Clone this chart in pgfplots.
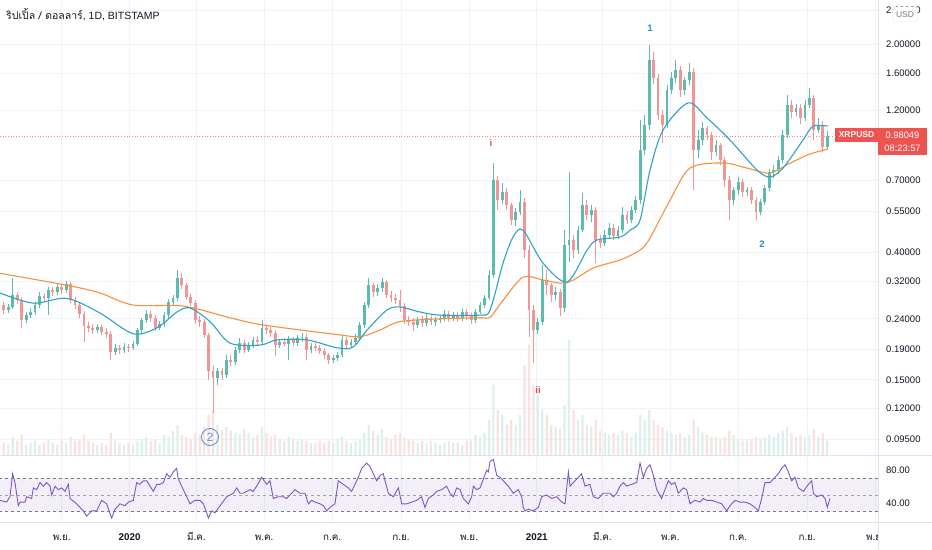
\documentclass[border=0pt]{standalone}
\usepackage{fontspec}
\setmainfont{Liberation Sans}
\newfontfamily\thaifont[Script=Thai]{Loma}
\usepackage{pgfplots}
\usepackage{pgfplotstable}
\pgfplotsset{compat=1.18}
\definecolor{upc}{HTML}{5DBAAF}
\definecolor{dnc}{HTML}{F29694}
\definecolor{vup}{HTML}{DCF1ED}
\definecolor{vdn}{HTML}{FCE1E1}
\definecolor{tealma}{HTML}{2EA3C9}
\definecolor{orma}{HTML}{F7913D}
\definecolor{rsic}{HTML}{7E57C2}
\definecolor{gridc}{HTML}{F0F3FA}
\definecolor{sepc}{HTML}{E0E3EB}
\definecolor{txtc}{HTML}{131722}
\definecolor{redc}{HTML}{EF5350}
\definecolor{lvl}{HTML}{787B86}
\definecolor{wave}{HTML}{2A93BA}
\definecolor{wred}{HTML}{E04848}
\definecolor{circ}{HTML}{5A9BD5}

\pgfplotstableread{
d o h l c v
-52 0.267 0.273 0.249 0.257 12
-48 0.257 0.269 0.251 0.263 10
-44 0.263 0.329 0.259 0.288 18
-40 0.288 0.295 0.269 0.277 14
-36 0.277 0.284 0.224 0.238 20
-32 0.238 0.253 0.233 0.247 10
-28 0.247 0.261 0.241 0.253 12
-24 0.253 0.273 0.247 0.267 14
-20 0.267 0.295 0.261 0.286 10
-16 0.286 0.293 0.273 0.281 12
-12 0.281 0.306 0.247 0.300 16
-8 0.300 0.308 0.286 0.295 12
-4 0.295 0.314 0.288 0.306 10
0 0.306 0.314 0.290 0.300 14
4 0.300 0.321 0.293 0.314 12
8 0.314 0.319 0.271 0.277 18
12 0.277 0.284 0.259 0.267 14
16 0.267 0.273 0.241 0.249 16
20 0.249 0.255 0.201 0.227 20
24 0.227 0.235 0.217 0.224 14
28 0.224 0.231 0.214 0.220 12
32 0.220 0.231 0.215 0.225 10
36 0.225 0.229 0.212 0.217 12
40 0.217 0.224 0.207 0.214 10
44 0.214 0.219 0.175 0.186 22
48 0.186 0.198 0.182 0.192 14
52 0.192 0.196 0.183 0.189 12
56 0.189 0.199 0.185 0.193 10
60 0.193 0.198 0.186 0.192 12
64 0.192 0.202 0.189 0.198 10
68 0.198 0.224 0.195 0.220 14
72 0.220 0.242 0.215 0.238 16
76 0.238 0.257 0.233 0.249 18
80 0.249 0.255 0.235 0.242 14
84 0.242 0.247 0.218 0.224 16
88 0.224 0.236 0.220 0.231 12
92 0.231 0.253 0.225 0.247 20
96 0.247 0.279 0.241 0.273 18
100 0.273 0.288 0.265 0.281 24
104 0.281 0.350 0.275 0.329 30
108 0.329 0.341 0.302 0.311 20
112 0.311 0.316 0.277 0.284 18
116 0.284 0.290 0.265 0.271 16
120 0.271 0.277 0.231 0.238 22
124 0.238 0.245 0.225 0.235 20
128 0.235 0.240 0.207 0.212 28
132 0.212 0.215 0.150 0.160 40
136 0.160 0.168 0.116 0.152 45
140 0.152 0.164 0.144 0.160 30
144 0.160 0.164 0.150 0.156 25
148 0.156 0.181 0.152 0.175 28
152 0.175 0.181 0.167 0.172 24
156 0.172 0.193 0.168 0.189 22
160 0.189 0.207 0.185 0.199 20
164 0.199 0.204 0.185 0.189 26
168 0.189 0.201 0.186 0.196 22
172 0.196 0.209 0.192 0.204 18
176 0.204 0.210 0.195 0.201 20
180 0.201 0.238 0.198 0.224 28
184 0.224 0.229 0.214 0.220 22
188 0.220 0.225 0.209 0.215 18
192 0.215 0.220 0.180 0.196 20
196 0.196 0.206 0.192 0.201 16
200 0.201 0.207 0.194 0.198 14
204 0.198 0.210 0.175 0.204 18
208 0.204 0.209 0.195 0.199 16
212 0.199 0.212 0.195 0.207 14
216 0.207 0.215 0.201 0.209 16
220 0.209 0.214 0.175 0.189 14
224 0.189 0.199 0.185 0.195 12
228 0.195 0.199 0.188 0.192 12
232 0.192 0.196 0.183 0.188 14
236 0.188 0.192 0.176 0.181 12
240 0.181 0.185 0.169 0.175 14
244 0.175 0.182 0.171 0.178 12
248 0.178 0.186 0.174 0.182 16
252 0.182 0.212 0.179 0.204 18
256 0.204 0.209 0.192 0.196 14
260 0.196 0.206 0.192 0.201 12
264 0.201 0.214 0.196 0.207 14
268 0.207 0.234 0.202 0.229 16
272 0.229 0.273 0.224 0.267 22
276 0.267 0.329 0.261 0.311 30
280 0.311 0.316 0.284 0.295 24
284 0.295 0.314 0.286 0.304 20
288 0.304 0.329 0.295 0.319 26
292 0.319 0.324 0.281 0.288 18
296 0.288 0.297 0.273 0.281 16
300 0.281 0.290 0.269 0.277 20
304 0.277 0.300 0.253 0.265 22
308 0.265 0.271 0.231 0.238 18
312 0.238 0.245 0.227 0.235 16
316 0.235 0.242 0.219 0.229 14
320 0.229 0.243 0.224 0.238 12
324 0.238 0.245 0.225 0.233 14
328 0.233 0.249 0.227 0.242 12
332 0.242 0.247 0.229 0.235 14
336 0.235 0.243 0.227 0.238 12
340 0.238 0.247 0.233 0.242 10
344 0.242 0.257 0.236 0.249 12
348 0.249 0.255 0.235 0.242 14
352 0.242 0.253 0.236 0.247 12
356 0.247 0.253 0.235 0.242 12
360 0.242 0.259 0.236 0.253 10
364 0.253 0.259 0.238 0.245 14
368 0.245 0.251 0.231 0.238 16
372 0.238 0.259 0.233 0.253 20
376 0.253 0.273 0.249 0.267 18
380 0.267 0.288 0.261 0.281 22
384 0.281 0.350 0.277 0.336 35
388 0.336 0.798 0.329 0.700 70
392 0.700 0.722 0.556 0.600 45
396 0.600 0.684 0.582 0.638 40
400 0.638 0.659 0.556 0.577 30
404 0.577 0.586 0.495 0.514 35
408 0.514 0.564 0.491 0.547 30
412 0.547 0.648 0.535 0.591 40
416 0.591 0.610 0.384 0.408 90
420 0.408 0.424 0.209 0.257 110
424 0.257 0.267 0.171 0.220 70
428 0.220 0.242 0.214 0.235 60
432 0.235 0.363 0.229 0.324 45
436 0.324 0.350 0.288 0.311 40
440 0.311 0.316 0.273 0.288 30
444 0.288 0.306 0.277 0.295 28
448 0.295 0.302 0.245 0.261 26
452 0.261 0.476 0.253 0.424 50
456 0.424 0.745 0.372 0.441 115
460 0.441 0.458 0.384 0.408 45
464 0.408 0.491 0.396 0.476 35
468 0.476 0.633 0.469 0.577 40
472 0.577 0.600 0.514 0.535 30
476 0.535 0.577 0.506 0.556 28
480 0.556 0.569 0.369 0.441 35
484 0.441 0.458 0.414 0.431 24
488 0.431 0.476 0.421 0.458 22
492 0.458 0.503 0.448 0.484 20
496 0.484 0.499 0.441 0.454 22
500 0.454 0.491 0.444 0.476 20
504 0.476 0.569 0.465 0.535 24
508 0.535 0.552 0.499 0.514 22
512 0.514 0.573 0.503 0.556 18
516 0.556 0.619 0.543 0.600 22
520 0.600 1.113 0.582 0.883 40
524 0.883 1.156 0.849 1.070 35
528 1.070 1.985 1.030 1.768 45
532 1.768 1.881 1.469 1.538 35
536 1.538 1.586 1.113 1.156 30
540 1.156 1.202 0.931 1.070 28
544 1.070 1.457 1.046 1.402 24
548 1.402 1.611 1.360 1.538 22
552 1.538 1.768 1.480 1.636 20
556 1.636 1.688 1.328 1.402 22
560 1.402 1.550 1.349 1.515 18
564 1.515 1.728 1.457 1.611 20
568 1.611 1.663 0.648 0.883 35
572 0.883 1.030 0.830 0.953 28
576 0.953 1.096 0.917 1.046 22
580 1.046 1.061 0.953 0.991 20
584 0.991 1.014 0.817 0.869 18
588 0.869 0.953 0.843 0.917 18
592 0.917 0.931 0.786 0.817 16
596 0.817 0.836 0.664 0.700 18
600 0.700 0.722 0.514 0.600 24
604 0.600 0.664 0.577 0.648 20
608 0.648 0.717 0.624 0.690 16
612 0.690 0.706 0.614 0.638 14
616 0.638 0.664 0.619 0.648 14
620 0.648 0.664 0.582 0.600 16
624 0.600 0.614 0.514 0.547 18
628 0.547 0.605 0.535 0.591 16
632 0.591 0.674 0.577 0.659 18
636 0.659 0.762 0.643 0.745 20
640 0.745 0.786 0.711 0.756 18
644 0.756 0.843 0.733 0.817 22
648 0.817 1.030 0.798 0.991 24
652 0.991 1.349 0.968 1.249 28
656 1.249 1.298 1.130 1.184 22
660 1.184 1.259 1.147 1.221 18
664 1.221 1.259 1.079 1.130 20
668 1.130 1.298 1.104 1.249 18
672 1.249 1.424 1.221 1.317 20
676 1.317 1.349 0.953 1.030 26
680 1.030 1.130 1.006 1.070 18
684 1.070 1.104 0.869 0.903 22
688 0.903 1.022 0.883 0.980 14
}\candles

\pgfplotsset{
  candle/.style n args={2}{mark=*, only marks, mark size=0pt,
    mark options={draw=none, fill=none},
    error bars/.cd, y dir=plus, y explicit, error mark=none,
    error bar style={line width=#2, draw=#1, solid}},
  isup/.style={restrict expr to domain={\thisrow{c}-\thisrow{o}}{0:100}},
  isdown/.style={restrict expr to domain={\thisrow{o}-\thisrow{c}}{0.000001:100}},
}

\begin{document}
\begin{tikzpicture}[x=1bp,y=1bp]
\useasboundingbox (0,0) rectangle (932,550);
\fill[white] (0,0) rectangle (932,550);

% grid + price scale
\begin{axis}[at={(0bp,95bp)}, anchor=south west, scale only axis,
  width=878bp, height=455bp,
  xmin=-55.46, xmax=733.7, ymode=log, ymin=0.08396, ymax=2.8084,
  axis line style={draw=none}, major tick length=0pt,
  xtick={0,61,121,182,243,305,366,427,486,547,608,670,731},
  xticklabels={},
  ytick={0.095,0.12,0.15,0.19,0.24,0.32,0.40,0.55,0.70,1.20,1.60,2.00,2.60},
  yticklabels={0.09500,0.12000,0.15000,0.19000,0.24000,0.32000,0.40000,0.55000,0.70000,1.20000,1.60000,2.00000,2.60000},
  yticklabel pos=right,
  yticklabel style={anchor=west, inner sep=0pt, xshift=8bp, text=txtc,
    font=\fontsize{9.5bp}{11bp}\selectfont},
  grid=major, grid style={gridc, line width=0.7bp},
]
\end{axis}

% volume
\begin{axis}[at={(0bp,95bp)}, anchor=south west, scale only axis,
  width=878bp, height=455bp, hide axis,
  xmin=-55.46, xmax=733.7, ymin=0, ymax=455]
\addplot[ybar, bar width=2.2bp, bar shift=0pt, fill=vup, draw=none, isup]
  table[x=d, y=v] {\candles};
\addplot[ybar, bar width=2.2bp, bar shift=0pt, fill=vdn, draw=none, isdown]
  table[x=d, y=v] {\candles};
\end{axis}

% candles and moving averages
\begin{axis}[at={(0bp,95bp)}, anchor=south west, scale only axis,
  width=878bp, height=455bp, hide axis,
  xmin=-55.46, xmax=733.7, ymode=log, ymin=0.08396, ymax=2.8084]
\addplot[redc!70, dotted, line width=0.7bp] coordinates {(-55.46,0.98049) (693,0.98049)};
% wicks
\addplot[isup, candle={upc}{0.8bp}]
  table[x=d, y=l, y error plus expr={\thisrow{h}-\thisrow{l}}] {\candles};
\addplot[isdown, candle={dnc}{0.8bp}]
  table[x=d, y=l, y error plus expr={\thisrow{h}-\thisrow{l}}] {\candles};
% bodies
\addplot[isup, candle={upc}{2.8bp}]
  table[x=d, y=o, y error plus expr={\thisrow{c}-\thisrow{o}}] {\candles};
\addplot[isdown, candle={dnc}{2.8bp}]
  table[x=d, y=c, y error plus expr={\thisrow{o}-\thisrow{c}}] {\candles};
% slow MA
\addplot[orma, line width=1.1bp, smooth, tension=0.5] coordinates {
(-55.5,0.341) (4.8,0.311) (34.4,0.293) (64.1,0.267) (109,0.265) (151.3,0.242)
(180.9,0.229) (250.1,0.212) (268.1,0.209) (286,0.220) (304.1,0.235) (340,0.240)
(376,0.242) (385,0.243) (396.7,0.277) (414.6,0.331) (432.6,0.324) (454.2,0.317)
(477.6,0.355) (501.8,0.378) (519.8,0.408) (528.8,0.448) (546.8,0.600) (564.7,0.768)
(594.4,0.799) (616,0.768) (636.6,0.739) (654.6,0.798) (672.6,0.856) (688.8,0.889)};
% fast MA
\addplot[tealma, line width=1.1bp, smooth, tension=0.5] coordinates {
(-55.5,0.293) (-25.8,0.271) (4.8,0.281) (34.4,0.251) (64.1,0.214) (85.7,0.224)
(103.6,0.253) (115.3,0.261) (133.3,0.235) (151.3,0.199) (178.2,0.196) (193.5,0.204)
(220.5,0.204) (247.4,0.192) (261.8,0.193) (274.4,0.220) (292.4,0.257) (304.1,0.263)
(322.1,0.253) (340,0.247) (376,0.247) (385,0.257) (396.7,0.369) (405.7,0.451)
(414.6,0.476) (432.6,0.369) (454.2,0.319) (472.2,0.408) (481.2,0.441) (501.8,0.451)
(511,0.476) (519.8,0.514) (528.8,0.756) (540.5,1.030) (563,1.270) (580,1.130)
(600.7,0.953) (625,0.756) (636.6,0.717) (648.3,0.768) (666.3,0.953) (675.3,1.061)
(688.8,1.061)};
\end{axis}

% RSI
\begin{axis}[at={(0bp,28bp)}, anchor=south west, scale only axis,
  width=878bp, height=66bp,
  xmin=-55.46, xmax=733.7, ymin=17.6, ymax=96.8,
  axis line style={draw=none}, major tick length=0pt,
  xtick={0,61,121,182,243,305,366,427,486,547,608,670,731},
  xticklabels={{\thaifont พ.ย.},\textbf{2020},{\thaifont มี.ค.},{\thaifont พ.ค.},{\thaifont ก.ค.},{\thaifont ก.ย.},{\thaifont พ.ย.},\textbf{2021},{\thaifont มี.ค.},{\thaifont พ.ค.},{\thaifont ก.ค.},{\thaifont ก.ย.},{\thaifont พ.ย.}},
  xticklabel style={anchor=base, yshift=-19bp, text=txtc, font=\fontsize{9.8bp}{11bp}\selectfont},
  ytick={40,80}, yticklabels={40.00,80.00},
  yticklabel pos=right,
  yticklabel style={anchor=west, inner sep=0pt, xshift=8bp, text=txtc,
    font=\fontsize{9.5bp}{11bp}\selectfont},
  xmajorgrids, ymajorgrids=false, grid style={gridc, line width=0.7bp},
]
\addplot[draw=none, fill=rsic, fill opacity=0.09] coordinates {(-56,30) (734,30) (734,70) (-56,70)} -- cycle;
\addplot[lvl, dash pattern=on 3bp off 3bp, line width=0.6bp] coordinates {(-56,70) (734,70)};
\addplot[lvl!70, dash pattern=on 3bp off 3bp, line width=0.6bp] coordinates {(-56,50) (734,50)};
\addplot[lvl, dash pattern=on 3bp off 3bp, line width=0.6bp] coordinates {(-56,30) (734,30)};
\addplot[rsic, line width=0.9bp] coordinates {
(-55.5,43.6) (-49.5,41.5) (-46.5,47.9) (-44.1,75.5) (-42,64.9) (-39,37.2) (-37.5,41.5)
(-33,41.5) (-31.5,47.9) (-27,45.8) (-25.5,58.5) (-22.5,56.4) (-19.5,64.9) (-16.5,60.6)
(-13.5,64.9) (-10.5,60.6) (-9,50.0) (-6,60.6) (-3,56.4) (0,58.5) (3,54.3) (6,62.8)
(7.5,45.8) (13.5,39.4) (19.4,30.9) (22.4,24.5) (26.9,30.9) (31.4,30.9) (35.9,43.6)
(40.4,39.4) (44.9,22.3) (47.9,33.0) (52.4,39.4) (56.9,37.2) (59.9,41.5) (64.4,43.6)
(67.4,64.9) (70.4,62.8) (73.4,67.0) (76.4,67.0) (79.4,60.6) (82.4,54.3) (85.4,62.8)
(88.4,62.8) (91.4,64.9) (94.3,75.5) (97.3,71.3) (100.3,77.7) (103.3,81.9) (104.8,69.2)
(107.8,60.6) (110.8,52.1) (115.3,39.4) (119.8,43.6) (124.3,43.6) (127.3,39.4)
(130.3,28.7) (131.8,22.3) (134.8,30.9) (137.8,28.7) (142.3,37.2) (148.3,47.9)
(154.3,52.1) (157.3,58.5) (160.3,52.1) (163.2,52.1) (166.2,54.3) (169.2,56.4)
(172.2,54.3) (175.2,60.6) (179.7,71.3) (184.2,62.8) (187.2,67.0) (190.2,45.8)
(194.7,47.9) (199.2,47.9) (202.2,45.8) (205.2,50.0) (209.7,56.4) (214.2,52.1)
(218.7,52.1) (221.7,39.4) (224.7,43.6) (227.7,41.5) (232.2,39.4) (235.2,37.2)
(238.2,30.9) (241.1,35.1) (245.6,39.4) (248.6,67.0) (253.1,62.8) (257.6,58.5)
(260.6,54.3) (263.6,62.8) (266.6,71.3) (269.6,81.9) (274.1,88.3) (277.1,84.0)
(280.1,75.5) (283.1,67.0) (286.1,73.4) (289.1,75.5) (290.6,67.0) (293.6,52.1)
(298.1,47.9) (302.6,58.5) (305.6,39.4) (310.1,39.4) (314.6,41.5) (319.0,43.6)
(323.5,47.9) (326.5,35.1) (329.5,45.8) (334.0,50.0) (337.0,54.3) (341.5,56.4)
(346.0,60.6) (349.0,52.1) (352,47.9) (355,58.5) (358,56.4) (361,45.8) (365.5,39.4)
(368.5,47.9) (370,60.6) (373,56.4) (376,58.5) (379,69.2) (382,79.8) (383.5,77.7)
(385,90.4) (388,92.6) (391,73.4) (394,71.3) (398.4,64.9) (401.4,60.6) (405.9,52.1)
(410.4,56.4) (413.4,47.9) (414.9,35.1) (416.4,30.9) (419.4,33.0) (423.9,30.9)
(428.4,35.1) (431.4,47.9) (435.9,50.0) (440.4,45.8) (444.9,47.9) (449.4,41.5)
(452.4,39.4) (455.4,77.7) (456.9,60.6) (459.9,64.9) (462.8,69.2) (467.3,75.5)
(470.3,60.6) (474.8,62.8) (477.8,47.9) (482.3,45.8) (486.8,52.1) (492.8,52.1)
(495.8,47.9) (498.8,52.1) (501.8,60.6) (504.8,64.9) (507.8,60.6) (512.3,62.8)
(516.8,64.9) (519.8,88.3) (522.8,71.3) (525.8,81.9) (528.8,86.2) (531.8,73.4)
(534.8,56.4) (539.2,45.8) (542.2,56.4) (545.2,67.0) (548.2,62.8) (551.2,64.9)
(554.2,52.1) (558.7,58.5) (561.7,56.4) (564.7,39.4) (569.2,43.6) (573.7,41.5)
(576.7,45.8) (579.7,43.6) (584.2,43.6) (588.7,41.5) (593.2,39.4) (597.7,30.9)
(600.7,37.2) (605.2,43.6) (609.7,41.5) (614.1,41.5) (618.6,39.4) (623.1,35.1)
(626.1,30.9) (629.1,45.8) (632.1,64.9) (636.6,64.9) (639.6,69.2) (644.1,75.5)
(647.1,81.9) (650.1,86.2) (653.1,77.7) (656.1,67.0) (659.1,71.3) (662.1,58.5)
(666.6,54.3) (671.1,62.8) (674.1,67.0) (675.6,52.1) (678.6,47.9) (683.1,50.0)
(686.1,45.8) (688.1,35.1) (690.5,45.8)};
\end{axis}

% panel borders
\fill[white] (878.5,0) rectangle (932,27.5);
\draw[sepc, line width=0.8bp] (0,95) -- (932,95);
\draw[sepc, line width=0.8bp] (0,27.5) -- (932,27.5);
\draw[sepc, line width=0.8bp] (878,0) -- (878,550);

% title and badges
\node[anchor=west, text=txtc, font=\fontsize{10.5bp}{12bp}\selectfont, inner sep=0pt] at (6,535) {{\thaifont ริปเปิ้ล / ดอลลาร์}, 1D, BITSTAMP};
\node[draw=sepc, fill=white, rounded corners=2.5bp, text=lvl, inner sep=0pt,
  minimum width=25bp, minimum height=15bp, font=\fontsize{8.5bp}{9bp}\selectfont] at (905,535.5) {USD};
\fill[redc] (835,408) rectangle (878,422);
\node[text=white, font=\fontsize{8.5bp}{9bp}\selectfont\bfseries] at (856.5,415) {XRPUSD};
\fill[redc] (878,395) rectangle (927,422);
\node[text=white, font=\fontsize{9.3bp}{10bp}\selectfont] at (902.5,415) {0.98049};
\node[text=white, font=\fontsize{9.3bp}{10bp}\selectfont] at (902.5,402) {08:23:57};

% wave labels
\node[text=wave, font=\fontsize{9.5bp}{10bp}\selectfont\bfseries] at (650,522) {1};
\node[text=wave, font=\fontsize{9.5bp}{10bp}\selectfont\bfseries] at (762,306) {2};
\node[text=wred, font=\fontsize{9.5bp}{10bp}\selectfont\bfseries] at (491,407) {i};
\node[text=wred, font=\fontsize{9.5bp}{10bp}\selectfont\bfseries] at (538,160) {ii};
\node[draw=circ, circle, line width=0.9bp, minimum size=17bp, inner sep=0pt, text=circ,
  font=\fontsize{12bp}{13bp}\selectfont] at (210,113) {2};
\end{tikzpicture}
\end{document}
